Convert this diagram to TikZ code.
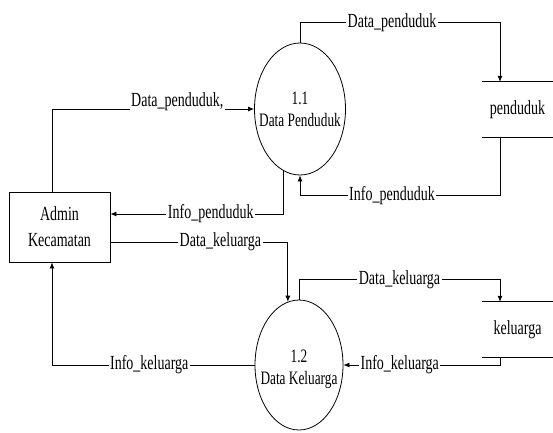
\documentclass[tikz,border=0pt]{standalone}
\usepackage{fontspec}
\setmainfont[FakeStretch=0.7]{Liberation Serif}
\usepackage{tikz}
\usetikzlibrary{shapes.geometric, arrows.meta, positioning, calc}
\tikzset{
  entity/.style={
    rectangle, draw, line width=0.8pt, minimum width=101pt, minimum height=70pt,
    align=center, font=\fontsize{20}{26}\selectfont
  },
  process/.style={
    ellipse, draw, line width=0.8pt, inner sep=0pt
  },
  proctext/.style={
    align=center, font=\fontsize{19}{22}\selectfont
  },
  datastore/.style={
    rectangle, minimum width=71pt, minimum height=55pt, font=\fontsize{20}{22}\selectfont
  },
  flowlabel/.style={
    fill=white, inner sep=1.5pt, font=\fontsize{20}{22}\selectfont
  },
  flowarrow/.style={
    line width=0.8pt, -{Latex[length=6pt,width=5pt]}
  }
}
\begin{document}
\begin{tikzpicture}[x=1pt, y=-1pt]
  \useasboundingbox (0,0) rectangle (553,432);
  \node[entity] (admin) at (59.5,227) {Admin\\Kecamatan};
  \node[process, minimum width=91pt, minimum height=132pt,
        label={[proctext]center:{1.1\\Data Penduduk}}] (p11) at (300,109) {};
  \node[process, minimum width=88pt, minimum height=130pt,
        label={[proctext, yshift=-4pt]center:{1.2\\Data Keluarga}}] (p12) at (299,365) {};
  \node[datastore] (pend) at (517.5,109.5) {penduduk};
  \node[datastore] (kel) at (517.5,329.5) {keluarga};

  % store lines
  \draw[line width=0.8pt] (pend.north west) -- (pend.north east);
  \draw[line width=0.8pt] (pend.south west) -- (pend.south east);
  \draw[line width=0.8pt] (kel.north west) -- (kel.north east);
  \draw[line width=0.8pt] (kel.south west) -- (kel.south east);

  % flows for 1.1
  \draw[flowarrow] ([xshift=-7.5pt]admin.north) |- node[flowlabel, pos=0.81, anchor=base, yshift=3pt] {Data\_penduduk,} (p11.west);
  \draw[flowarrow] (p11.north) -- ++(0,-20) -| node[flowlabel, pos=0.23] {Data\_penduduk} ([xshift=-17.5pt]pend.north);
  \draw[flowarrow] ([xshift=-17.5pt]pend.south) -- ++(0,58) -| node[flowlabel, pos=0.27] {Info\_penduduk} (p11.south);
  \draw[flowarrow] (p11.255) |- node[flowlabel, pos=0.71] {Info\_penduduk} ([yshift=13pt]admin.east);

  % flows for 1.2
  \draw[flowarrow] ([yshift=-15pt]admin.east) -| node[flowlabel, pos=0.31] {Data\_keluarga} (p12.100);
  \draw[flowarrow] (p12.north) -- ++(0,-20) -| node[flowlabel, pos=0.25] {Data\_keluarga} ([xshift=-17.5pt]kel.north);
  \draw[flowarrow] ([xshift=-17.5pt]kel.south) |- node[flowlabel, pos=0.82] {Info\_keluarga} (p12.east);
  \draw[flowarrow] (p12.west) -| node[flowlabel, pos=0.26] {Info\_keluarga} ([xshift=-7.5pt]admin.south);
\end{tikzpicture}
\end{document}
